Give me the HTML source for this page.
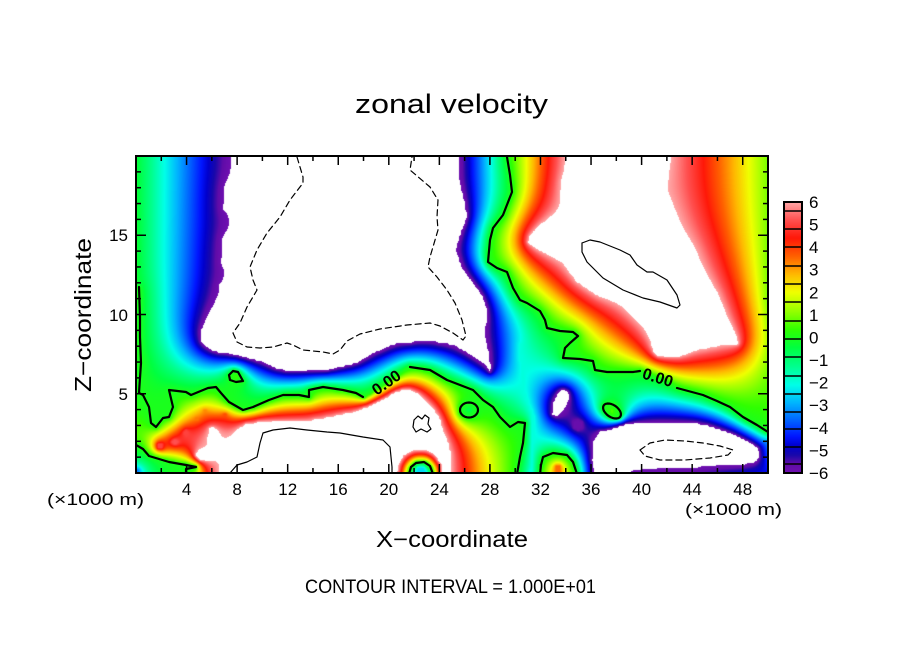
<!DOCTYPE html>
<html><head><meta charset="utf-8"><title>zonal velocity</title>
<style>
html,body{margin:0;padding:0;background:#fff;}
#wrap{position:relative;width:904px;height:654px;overflow:hidden;background:#fff;}
canvas{position:absolute;}
#cv{left:136px;top:156px;}
#cb{left:784px;top:202px;}
#ov{position:absolute;left:0;top:0;}
</style></head><body><div id="wrap">
<canvas id="cv" width="632" height="317"></canvas>
<canvas id="cb" width="18" height="271"></canvas>
<svg id="ov" width="904" height="654" viewBox="0 0 904 654" xmlns="http://www.w3.org/2000/svg" font-family="'Liberation Sans', Arial, sans-serif" fill="#000">
<defs><clipPath id="pc"><rect x="136" y="156" width="632" height="317"/></clipPath></defs>
<g id="cont" fill="none" stroke="#000" stroke-linejoin="round" stroke-linecap="round" clip-path="url(#pc)"></g>
<g id="ticks" stroke="#000" stroke-width="1.5"></g>
<rect x="136" y="156" width="632" height="317" fill="none" stroke="#000" stroke-width="2"/>
<g id="cbl" stroke="#000" stroke-width="1.5"></g>
<rect x="784" y="202" width="18" height="271" fill="none" stroke="#000" stroke-width="2"/>
<text x="386" y="388" font-size="16" font-weight="bold" text-anchor="middle" transform="rotate(-35 386 382)">0.00</text>
<text x="658" y="383" font-size="16" font-weight="bold" text-anchor="middle" transform="rotate(17 658 377)">0.00</text>
<text x="355" y="113" font-size="27" textLength="193" lengthAdjust="spacingAndGlyphs">zonal velocity</text>
<text transform="translate(91,315) rotate(-90)" text-anchor="middle" font-size="23" textLength="154" lengthAdjust="spacingAndGlyphs">Z−coordinate</text>
<text x="452" y="547" text-anchor="middle" font-size="23" textLength="152" lengthAdjust="spacingAndGlyphs">X−coordinate</text>
<text x="450.5" y="593" text-anchor="middle" font-size="19.5" textLength="291" lengthAdjust="spacingAndGlyphs">CONTOUR INTERVAL = 1.000E+01</text>
<text x="47" y="505" font-size="17" textLength="97" lengthAdjust="spacingAndGlyphs">(×1000 m)</text>
<text x="685" y="515" font-size="17" textLength="97" lengthAdjust="spacingAndGlyphs">(×1000 m)</text>
<g font-size="17" text-anchor="middle">
<text x="186.6" y="495">4</text><text x="237.1" y="495">8</text><text x="287.7" y="495">12</text><text x="338.2" y="495">16</text>
<text x="388.8" y="495">20</text><text x="439.4" y="495">24</text><text x="489.9" y="495">28</text><text x="540.5" y="495">32</text>
<text x="591" y="495">36</text><text x="641.6" y="495">40</text><text x="692.2" y="495">44</text><text x="742.7" y="495">48</text>
</g>
<g font-size="17" text-anchor="end">
<text x="128" y="400">5</text><text x="128" y="321">10</text><text x="128" y="241">15</text>
</g>
<g font-size="17">
<text x="809" y="208">6</text><text x="809" y="230.6">5</text><text x="809" y="253.2">4</text><text x="809" y="275.7">3</text>
<text x="809" y="298.3">2</text><text x="809" y="320.9">1</text><text x="809" y="343.5">0</text><text x="809" y="366">−1</text>
<text x="809" y="388.6">−2</text><text x="809" y="411.2">−3</text><text x="809" y="433.8">−4</text><text x="809" y="456.4">−5</text>
<text x="809" y="479">−6</text>
</g>
</svg>
</div>
<script>
(function(){
const X0=136,Y0=156,W=632,H=317,V=6.15;
function ell(cx,cy,rx,ry,rot,n){const a=[];const c=Math.cos(rot),s=Math.sin(rot);for(let i=0;i<=n;i++){const t=i/n*2*Math.PI;const x=rx*Math.cos(t),y=ry*Math.sin(t);a.push([cx+x*c-y*s,cy+x*s+y*c]);}return a;}
const W1=[[233,150],[232,176],[225,186],[224,208],[232,214],[233,228],[224,238],[222,262],[228,268],[228,279],[220,286],[221,293],[215,305],[207,318],[201,332],[202,343],[212,351],[236,355],[263,362],[278,369],[296,372],[330,370],[357,363],[373,353],[397,343],[430,341],[455,345],[473,356],[486,365],[492,376],[489,355],[484,335],[488,312],[482,295],[473,283],[462,268],[455,250],[461,232],[467,217],[464,200],[459,180],[458,150]];
const W2=[[568,150],[565,170],[562,180],[562,208],[550,218],[540,225],[530,235],[527,243],[543,252],[563,262],[577,282],[597,295],[617,302],[630,312],[643,325],[650,338],[653,352],[660,358],[677,358],[697,350],[723,345],[740,346],[737,337],[727,317],[717,293],[703,270],[693,247],[680,227],[667,197],[660,190],[665,183],[670,150]];
const W3=[[218,480],[220,470],[223,463],[228,447],[233,435],[240,428],[247,423],[269,421],[303,422],[330,417],[357,411],[380,401],[397,391],[407,388],[420,395],[430,404],[440,418],[443,430],[448,443],[452,458],[452,480],[443,480],[441,464],[435,456],[428,451],[420,450],[412,451],[404,456],[399,464],[397,480]];
const B1=[[209,428],[214,426],[219,433],[218,445],[213,446],[208,438]];
const B2=[[193,455],[200,449],[210,448],[216,452],[214,460],[200,461]];
const W4=[[593,480],[592,460],[593,443],[600,432],[613,428],[627,423],[645,422],[660,423],[693,423],[710,426],[730,433],[748,441],[760,449],[760,456],[755,462],[740,465],[700,466],[650,467],[630,469],[626,480]];
const W5=[[563,389],[569,391],[570,398],[564,408],[557,417],[552,414],[553,404],[557,395]];
const polys=[{v:-V,p:W1},{v:V,p:W2},{v:V,p:W3},{v:V,p:B1},{v:V,p:B2},{v:-V,p:W4},{v:-V,p:W5}];

const L1a=[[139,287],[140,317],[140,337],[141,363],[139,393],[143,395],[149,407],[151,423],[156,427],[163,418],[169,417],[173,407],[169,390],[186,392],[191,395],[208,388],[216,387],[221,393],[229,402],[243,410],[253,407],[269,400],[283,395],[299,395],[309,397],[309,390],[323,387],[343,390],[356,393],[363,397]];
const L1lab=[[375,390],[387,382],[398,374]];
const L1b=[[410,367],[430,370],[447,380],[473,390],[483,400],[493,407],[500,417],[510,427],[518,422],[525,423],[523,443],[520,457],[517,474]];
const L2=[[136,445],[143,449],[149,456],[169,462],[186,465],[196,467],[186,469],[186,474]];
const L3a=[[507,150],[507,157],[510,175],[512,192],[503,215],[493,228],[490,240],[488,262],[497,268],[507,272],[513,288],[520,300],[527,303],[540,311],[545,320],[547,328],[560,331],[573,332],[578,336],[570,343],[565,348],[563,358],[580,359],[593,361],[595,370],[607,372],[633,372],[640,371]];
const L3lab=[[650,375],[665,381]];
const L3b=[[677,388],[703,395],[717,401],[730,407],[743,417],[757,425],[768,432]];
const L4=ell(469,410,9,7.5,0,28);
const L5=ell(612,411,10,6,0.6,28);
const L6=[[233,371],[238,372],[243,381],[236,382],[230,380],[229,375],[233,371]];
const L7=[[409,474],[411,467],[416,463],[424,462],[430,466],[433,474]];
const L8=[[540,474],[541,465],[543,457],[553,453],[567,455],[573,462],[577,474]];
const river=[[520,345],[522,370],[525,395],[533,415],[533,440],[531,472]];

const lines=[{v:0,p:L1a.concat(L1lab,L1b)},{v:0,p:L2},{v:0,p:L3a.concat(L3lab,L3b)},{v:0,p:L4},{v:0,p:L5},{v:0,p:L6},{v:0,p:L7},{v:0,p:L8},{v:-2,p:river}];
const vlines=[
 [[136,156,-0.3],[136,283,-0.2]],
 [[768,156,0.9],[768,300,0.9],[768,340,1.4],[768,385,0.7],[768,420,0.2]],
 [[768,442,-3.3],[768,473,-4.5]],
 [[632,473,-5.9],[700,473,-5.6],[766,473,-4.6]]
];
const pts=[[421,472,-2.5,5],[469,410,-0.6,2],[612,411,0.6,2],[236,377,0.4,1.5],[558,469,3.5,4],[578,425,-5.8,5],[175,442,5.2,3],[160,446,5,3],[186,433,5,3],[197,419,3.4,2],[205,410,3.2,2],[225,415,3.8,2],[140,425,0.5,2],[137,471,-3.5,3]];

function pip(x,y,p){let c=false;for(let i=0,j=p.length-1;i<p.length;j=i++){const xi=p[i][0],yi=p[i][1],xj=p[j][0],yj=p[j][1];if(((yi>y)!=(yj>y))&&(x<(xj-xi)*(y-yi)/(yj-yi)+xi))c=!c;}return c;}
function sample(g,x,y){let gx=x/g.h,gy=y/g.h;gx=Math.max(0,Math.min(g.nx-1.001,gx));gy=Math.max(0,Math.min(g.ny-1.001,gy));const i=Math.floor(gx),j=Math.floor(gy),fx=gx-i,fy=gy-j;const k=j*g.nx+i,u=g.u;return (u[k]*(1-fx)+u[k+1]*fx)*(1-fy)+(u[k+g.nx]*(1-fx)+u[k+g.nx+1]*fx)*fy;}
function solve(h,prev,iters,om){
 const nx=Math.floor(W/h)+2,ny=Math.floor(H/h)+2,N=nx*ny;
 const u=new Float32Array(N),fx=new Uint8Array(N);
 if(prev){for(let j=0;j<ny;j++)for(let i=0;i<nx;i++)u[j*nx+i]=sample(prev,i*h,j*h);}
 for(const P of polys){let a=1e9,b=-1e9,c=1e9,d=-1e9;for(const q of P.p){a=Math.min(a,q[0]);b=Math.max(b,q[0]);c=Math.min(c,q[1]);d=Math.max(d,q[1]);}
  const i0=Math.max(0,Math.floor((a-X0)/h)),i1=Math.min(nx-1,Math.ceil((b-X0)/h)),j0=Math.max(0,Math.floor((c-Y0)/h)),j1=Math.min(ny-1,Math.ceil((d-Y0)/h));
  for(let j=j0;j<=j1;j++)for(let i=i0;i<=i1;i++){if(pip(X0+i*h,Y0+j*h,P.p)){const k=j*nx+i;fx[k]=1;u[k]=P.v;}}}
 function mark(x,y,v,r){const rr=Math.max(r,0.6*h);const i0=Math.max(0,Math.floor((x-rr-X0)/h)),i1=Math.min(nx-1,Math.ceil((x+rr-X0)/h)),j0=Math.max(0,Math.floor((y-rr-Y0)/h)),j1=Math.min(ny-1,Math.ceil((y+rr-Y0)/h));let m=false;
  for(let j=j0;j<=j1;j++)for(let i=i0;i<=i1;i++){const dx=X0+i*h-x,dy=Y0+j*h-y;if(dx*dx+dy*dy<=rr*rr){const k=j*nx+i;fx[k]=1;u[k]=v;m=true;}}
  if(!m){const i=Math.round((x-X0)/h),j=Math.round((y-Y0)/h);if(i>=0&&i<nx&&j>=0&&j<ny){const k=j*nx+i;fx[k]=1;u[k]=v;}}}
 for(const L of lines){const p=L.p;for(let s=0;s<p.length-1;s++){const ax=p[s][0],ay=p[s][1],bx=p[s+1][0],by=p[s+1][1];const len=Math.hypot(bx-ax,by-ay);const n=Math.ceil(len/(h*0.25))+1;for(let t=0;t<=n;t++){const f=t/n;mark(ax+(bx-ax)*f,ay+(by-ay)*f,L.v,0);}}}
 for(const p of vlines){for(let s=0;s<p.length-1;s++){const a=p[s],b=p[s+1];const len=Math.hypot(b[0]-a[0],b[1]-a[1]);const n=Math.ceil(len/(h*0.25))+1;for(let t=0;t<=n;t++){const f=t/n;mark(a[0]+(b[0]-a[0])*f,a[1]+(b[1]-a[1])*f,a[2]+(b[2]-a[2])*f,0);}}}
 for(const p of pts)mark(p[0],p[1],p[2],p[3]);
 for(let it=0;it<iters;it++){
  for(let j=0;j<ny;j++){const jm=j>0?j-1:1,jp=j<ny-1?j+1:ny-2;
   for(let i=0;i<nx;i++){const k=j*nx+i;if(fx[k])continue;const im=i>0?i-1:1,ip=i<nx-1?i+1:nx-2;
    const av=(u[j*nx+im]+u[j*nx+ip]+u[jm*nx+i]+u[jp*nx+i])*0.25;u[k]+=om*(av-u[k]);}}}
 return {u:u,nx:nx,ny:ny,h:h};
}
const STOPS=[[-6.0,112,16,176],[-5.6,96,12,168],[-5.2,24,8,170],[-4.8,0,0,205],[-4.4,0,20,255],[-3.7,0,96,255],[-2.9,0,180,255],[-2.1,0,255,232],[-1.3,0,255,144],[-0.45,0,255,64],[0.35,48,255,0],[1.15,148,255,0],[2.0,240,255,0],[2.8,255,184,0],[3.6,255,96,0],[4.4,255,24,8],[5.2,255,80,80],[6.0,255,168,168]];
function cmap(v){if(v<=STOPS[0][0])return [STOPS[0][1],STOPS[0][2],STOPS[0][3]];for(let i=1;i<STOPS.length;i++){if(v<=STOPS[i][0]){const a=STOPS[i-1],b=STOPS[i];const t=(v-a[0])/(b[0]-a[0]);return [a[1]+(b[1]-a[1])*t,a[2]+(b[2]-a[2])*t,a[3]+(b[3]-a[3])*t];}}const l=STOPS[STOPS.length-1];return [l[1],l[2],l[3]];}

let g=solve(8,null,700,1.8);
g=solve(4,g,500,1.88);
g=solve(2,g,500,1.92);
const cv=document.getElementById('cv'),ctx=cv.getContext('2d');const img=ctx.createImageData(W,H),d=img.data;
for(let py=0;py<H;py++)for(let px=0;px<W;px++){const v=sample(g,px+0.5,py+0.5);const o=(py*W+px)*4;
 if(v>6||v<-6){d[o]=255;d[o+1]=255;d[o+2]=255;}else{const c=cmap(v);d[o]=c[0];d[o+1]=c[1];d[o+2]=c[2];}d[o+3]=255;}
ctx.putImageData(img,0,0);
const cb=document.getElementById('cb'),cc=cb.getContext('2d');
for(let y=0;y<271;y++){const v=6-(y+0.5)*12/271;const c=cmap(Math.max(-5.95,Math.min(5.95,v)));cc.fillStyle='rgb('+Math.round(c[0])+','+Math.round(c[1])+','+Math.round(c[2])+')';cc.fillRect(0,y,18,1);}
const NS='http://www.w3.org/2000/svg';
function pth(p){return 'M'+p.map(q=>q[0].toFixed(1)+' '+q[1].toFixed(1)).join(' L');}
function add(parent,tag,attrs){const e=document.createElementNS(NS,tag);for(const k in attrs)e.setAttribute(k,attrs[k]);parent.appendChild(e);return e;}
const cont=document.getElementById('cont');
[L1a,L1b,L2,L3a,L3b,L4,L5,L6,L7,L8].forEach(p=>add(cont,'path',{d:pth(p),'stroke-width':'2.2'}));
const neg1=[[297,157],[303,177],[303,183],[290,200],[280,217],[267,233],[257,250],[250,267],[253,280],[257,290],[247,307],[240,323],[233,333],[237,342],[247,347],[260,348],[273,347],[287,343],[293,345],[303,350],[323,352],[333,354],[340,350],[347,341],[360,334],[380,329],[407,325],[430,323],[440,326],[453,333],[463,340],[466,336],[462,320],[455,303],[447,290],[437,277],[428,267],[430,257],[438,230],[437,217],[438,200],[430,187],[410,170],[412,157]];
const neg2=[[640,450],[650,443],[665,440],[685,441],[703,443],[720,446],[733,450],[728,455],[710,458],[685,460],[660,460],[645,456],[640,450]];
const pos1=[[582,243],[590,240],[600,242],[620,250],[630,255],[637,265],[647,272],[653,272],[667,280],[677,295],[680,305],[677,308],[660,302],[643,298],[623,290],[603,278],[587,262],[582,252],[582,243]];
const pos2=[[230,473],[237,465],[247,462],[257,457],[260,443],[263,433],[273,430],[290,428],[307,430],[327,432],[340,433],[363,437],[383,440],[390,447],[392,467],[392,473]];
const sq=[[414,420],[418,416],[422,419],[425,415],[429,418],[428,424],[431,429],[427,432],[421,429],[416,432],[413,427],[414,420]];
add(cont,'path',{d:pth(neg1),'stroke-width':'1.2','stroke-dasharray':'6 4'});
add(cont,'path',{d:pth(neg2),'stroke-width':'1.2','stroke-dasharray':'6 4'});
add(cont,'path',{d:pth(pos1),'stroke-width':'1.2'});
add(cont,'path',{d:pth(pos2),'stroke-width':'1.2'});
add(cont,'path',{d:pth(sq),'stroke-width':'1.2'});
const tk=document.getElementById('ticks');
for(let dd=2;dd<50;dd+=2){const x=136+dd*12.64;const L=(dd%4==0)?9:5;add(tk,'line',{x1:x,y1:473,x2:x,y2:473-L});add(tk,'line',{x1:x,y1:156,x2:x,y2:156+L});}
for(let z=1;z<20;z++){const y=473-z*15.85;const L=(z%5==0)?10:5;add(tk,'line',{x1:136,y1:y,x2:136+L,y2:y});add(tk,'line',{x1:768,y1:y,x2:768-L,y2:y});}
const cbl=document.getElementById('cbl');
[211,229,247,266,284,302,321,339,357,376,394,412,429,447,464].forEach(y=>add(cbl,'line',{x1:784,y1:y,x2:802,y2:y}));
})();
</script>
</body></html>
